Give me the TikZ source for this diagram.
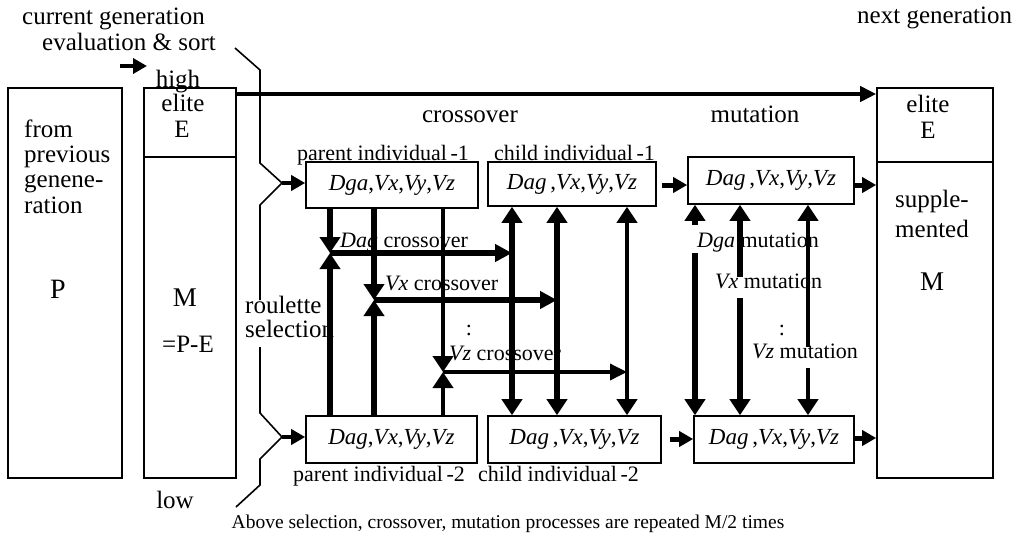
\documentclass[tikz,border=0pt]{standalone}
\usepackage{fontspec}
\setmainfont{Liberation Serif}
\usetikzlibrary{arrows.meta}
\newcommand\fsBig{\fontsize{25}{29}\selectfont}
\newcommand\fsMid{\fontsize{22}{26}\selectfont}
\newcommand\fsBox{\fontsize{23}{27}\selectfont}
\newcommand\fsBot{\fontsize{19.5}{23}\selectfont}
\begin{document}
\begin{tikzpicture}[x=1pt,y=-1pt,>={Triangle[width=20pt,length=16pt]},
 box/.style={draw,line width=1.6pt,inner sep=0pt},
 tb/.style={inner sep=0pt,font=\fsBig},
 tm/.style={inner sep=0pt,font=\fsMid},
 lw/.style={tb,anchor=base west},
 lc/.style={tb,anchor=base},
 mw/.style={tm,anchor=base west},
 thinl/.style={line width=1.6pt},
 sarr/.style={line width=4pt,-{Triangle[width=15pt,length=14pt]}},
 wA/.style={line width=6.5pt},
 wB/.style={line width=5.5pt},
 wC/.style={line width=4pt},
]
\useasboundingbox (0,0) rectangle (1017,542);

% big boxes
\node[box,minimum width=114pt,minimum height=390pt] (pbox) at (65,283) {};
\node[box,minimum width=92pt,minimum height=390pt] (mbox) at (190,283) {};
\node[box,minimum width=116pt,minimum height=390pt] (rbox) at (935,283) {};
\coordinate (md) at (0,157);
\coordinate (rd) at (0,162);
\draw[thinl] (mbox.west |- md) -- (mbox.east |- md);
\draw[thinl] (rbox.west |- rd) -- (rbox.east |- rd);

% individual boxes
\node[box,minimum width=172pt,minimum height=46pt,font=\fsBox] (p1) at (392,185)
  {\textit{Dga},\textit{Vx},\textit{Vy},\textit{Vz}};
\node[box,minimum width=168pt,minimum height=44pt,font=\fsBox] (c1) at (572,184)
  {\textit{Dag}\,,\textit{Vx},\textit{Vy},\textit{Vz}};
\node[box,minimum width=166pt,minimum height=47pt,font=\fsBox] (m1) at (771,180.5)
  {\textit{Dag}\,,\textit{Vx},\textit{Vy},\textit{Vz}};
\node[box,minimum width=171pt,minimum height=47pt,font=\fsBox] (p2) at (391.5,439.5)
  {\textit{Dag},\textit{Vx},\textit{Vy},\textit{Vz}};
\node[box,minimum width=173pt,minimum height=47pt,font=\fsBox] (c2) at (574.5,439.5)
  {\textit{Dag}\,,\textit{Vx},\textit{Vy},\textit{Vz}};
\node[box,minimum width=160pt,minimum height=47pt,font=\fsBox] (m2) at (774,439.5)
  {\textit{Dag}\,,\textit{Vx},\textit{Vy},\textit{Vz}};

% top texts
\node[lw] (tcur) at (22,24) {current generation};
\node[lw] (teval) at (42,50) {evaluation \& sort};
\node[lw] (tnext) at (857,23) {next generation};
\node[lc] (thigh) at (178,87) {high};
\node[lc] (tlow) at (175,508) {low};
\node[lc] (tcross) at (470,122) {crossover};
\node[lc] (tmut) at (755,122) {mutation};

% P box text
\node[lw] (tf1) at (24,137) {from};
\node[lw] (tf2) at (24,162) {previous};
\node[lw] (tf3) at (24,187) {genene-};
\node[lw] (tf4) at (24,213) {ration};
\node[lc,font=\fontsize{28}{32}\selectfont] (tP) at (58,298) {P};

% M box text
\node[lc] (tme) at (183,111) {elite};
\node[lc] (tmE) at (182,137) {E};
\node[lc,font=\fontsize{27}{31}\selectfont] (tmM) at (185,306) {M};
\node[lc] (tmPE) at (188,352) {=P-E};

% right box text
\node[lc] (tre) at (928,112) {elite};
\node[lc] (trE) at (928,138) {E};
\node[lw] (trs1) at (895,207) {supple-};
\node[lw] (trs2) at (895,237) {mented};
\node[lc,font=\fontsize{27}{31}\selectfont] (trM) at (932,290) {M};

% individual labels
\node[mw] (lp1) at (297,160) {parent individual\,-1};
\node[mw] (lc1) at (494,160) {child individual\,-1};
\node[mw] (lp2) at (293,481) {parent individual\,-2};
\node[mw] (lc2) at (478,481) {child individual\,-2};

\node[lw] (tr1) at (245,313) {roulette};
\node[lw] (tr2) at (245,337) {selection};

% crossover / mutation labels
\node[mw] (xc1) at (340,247) {\textit{Dag} crossover};
\node[mw] (xc2) at (385,290) {\textit{Vx} crossover};
\node[tm] (xdots) at (469,330) {:};
\node[mw] (xc3) at (449,360) {\textit{Vz} crossover};
\node[mw] (mu1) at (697,247) {\textit{Dga} mutation};
\node[mw] (mu2) at (715,288) {\textit{Vx} mutation};
\node[tm] (mdots) at (782,330) {:};
\node[mw] (mu3) at (752,358) {\textit{Vz} mutation};

\node[lc,font=\fsBot] (tbot) at (508,528)
  {Above selection, crossover, mutation processes are repeated M/2 times};

% evaluation arrow
\coordinate (ea) at (120,66);
\coordinate (eb) at (147,66);
\draw[sarr] (ea) -- (eb);

% elite arrow
\coordinate (ta) at (236,94);
\draw[line width=4pt,-{Triangle[width=15pt,length=16pt]}] (ta) -- (ta -| rbox.west);

% brace-like selection path
\coordinate (b0) at (235,48);
\coordinate (b1) at (282,183);
\coordinate (b2) at (282,437);
\coordinate (b9) at (236,507);
\draw[thinl] (b0) -- (260,70) -- (260,163) -- (b1) -- (260,205) -- (260,300);
\draw[thinl] (260,347) -- (260,413) -- (b2) -- (260,459) -- (260,485) -- (b9);
\draw[sarr] (b1) -- (b1 -| p1.west);
\draw[sarr] (b2) -- (b2 -| p2.west);

% crossover lines
\coordinate (j1) at (330,253);
\coordinate (j2) at (374,300);
\coordinate (j3) at (443,372);
\coordinate (k1) at (512,300);
\coordinate (k2) at (557,300);
\coordinate (k3) at (627,300);
\draw[wA,->] (j1 |- p1.south) -- (j1);
\draw[wA,->] (j1 |- p2.north) -- (j1);
\draw[wB,->] (j2 |- p1.south) -- (j2);
\draw[wB,->] (j2 |- p2.north) -- (j2);
\draw[wC,->] (j3 |- p1.south) -- (j3);
\draw[wC,->] (j3 |- p2.north) -- (j3);
\draw[wB,-{Triangle[width=17pt,length=17pt]}] (j1) -- (j1 -| k1);
\draw[wB,-{Triangle[width=17pt,length=17pt]}] (j2) -- (j2 -| k2);
\draw[line width=3.5pt,-{Triangle[width=16pt,length=17pt]}] (j3) -- (j3 -| k3);
\draw[wB,<->] (k1 |- c1.south) -- (k1 |- c2.north);
\draw[wB,<->] (k2 |- c1.south) -- (k2 |- c2.north);
\draw[wC,<->] (k3 |- c1.south) -- (k3 |- c2.north);

% box to box arrows
\coordinate (s1) at (662,185);
\coordinate (s2) at (670,439);
\draw[sarr,line width=5pt] (s1) -- (s1 -| m1.west);
\draw[sarr,line width=5pt] (s2) -- (s2 -| m2.west);
\coordinate (s3) at (854,185);
\coordinate (s4) at (854,438);
\draw[sarr,line width=5pt] (s3) -- (s3 -| rbox.west);
\draw[sarr,line width=5pt] (s4) -- (s4 -| rbox.west);

% mutation lines
\coordinate (ma1) at (695,225);
\coordinate (mb1) at (695,253);
\coordinate (ma2) at (740,277);
\coordinate (mb2) at (740,298);
\coordinate (ma3) at (808,347);
\coordinate (mb3) at (808,368);
\draw[wA,->] (ma1) -- (ma1 |- m1.south);
\draw[wA,->] (mb1) -- (mb1 |- m2.north);
\draw[wB,->] (ma2) -- (ma2 |- m1.south);
\draw[wB,->] (mb2) -- (mb2 |- m2.north);
\draw[wC,->] (ma3) -- (ma3 |- m1.south);
\draw[wC,->] (mb3) -- (mb3 |- m2.north);
\end{tikzpicture}
\end{document}
